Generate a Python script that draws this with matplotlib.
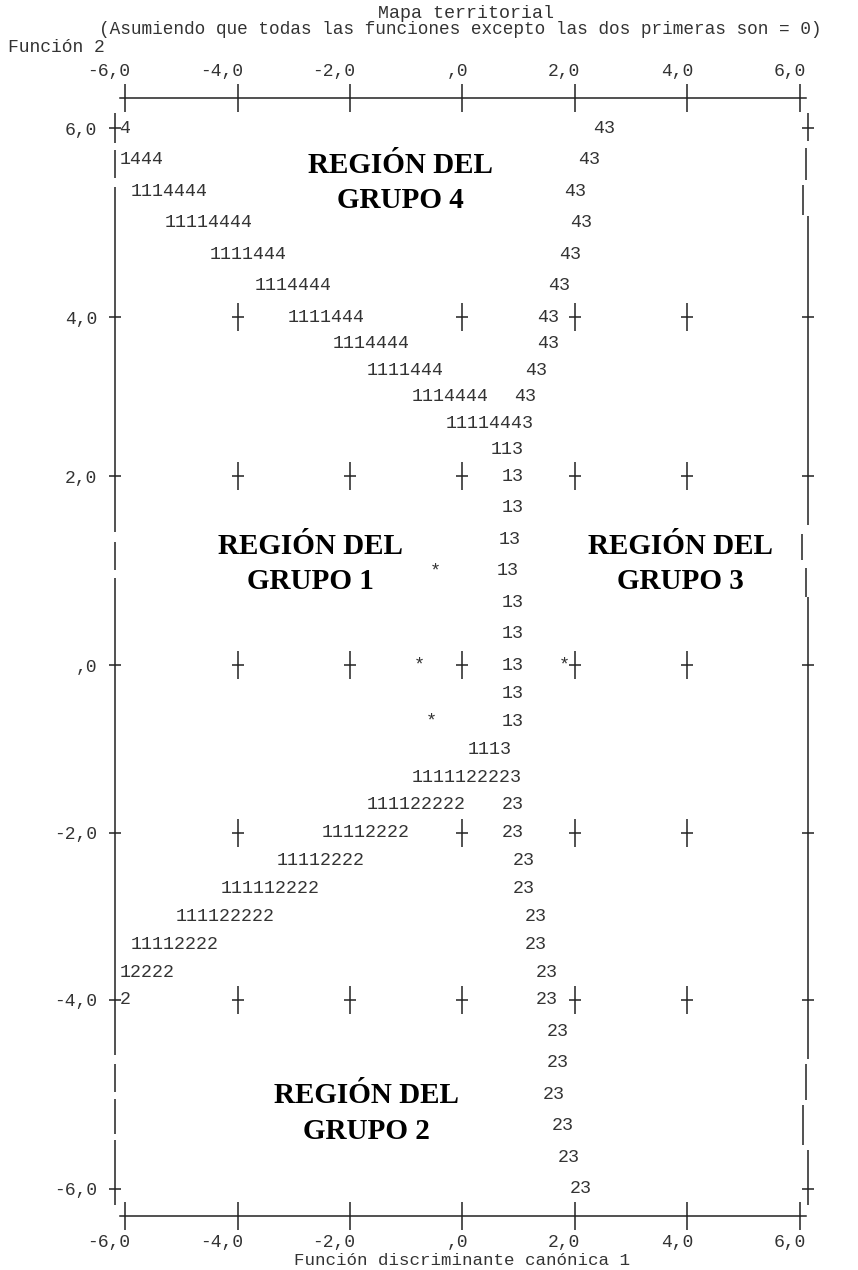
import numpy as np
import matplotlib
matplotlib.use('Agg')
import matplotlib.pyplot as plt
from matplotlib.transforms import ScaledTranslation

# SPSS territorial map, one list per printed row (row 0 = Función 2 at 6,0,
# three rows per unit). Each entry is (column, text), column 0 = -6,0 and
# every column is 0,2 units of Función 1.
map_rows = [
    [(0, '4'), (42.1, '43')],
    [(0, '1444'), (40.8, '43')],
    [(1, '1114444'), (39.5, '43')],
    [(4, '11114444'), (40.1, '43')],
    [(8, '1111444'), (39.1, '43')],
    [(12, '1114444'), (38.1, '43')],
    [(15, '1111444'), (37.1, '43')],
    [(19, '1114444'), (37.1, '43')],
    [(22, '1111444'), (36.1, '43')],
    [(26, '1114444'), (35.1, '43')],
    [(29, '11114443')],
    [(33, '113')],
    [(34, '13')],
    [(34, '13')],
    [(33.7, '13')],
    [(27.6, '*'), (33.5, '13')],
    [(34, '13')],
    [(34, '13')],
    [(26.2, '*'), (34, '13'), (39.1, '*')],
    [(34, '13')],
    [(27.2, '*'), (34, '13')],
    [(31, '1113')],
    [(26, '1111122223')],
    [(22, '111122222'), (34, '23')],
    [(18, '11112222'), (34, '23')],
    [(14, '11112222'), (35, '23')],
    [(9, '111112222'), (35, '23')],
    [(5, '111122222'), (36, '23')],
    [(1, '11112222'), (36, '23')],
    [(0, '12222'), (37, '23')],
    [(0, '2'), (37, '23')],
    [(38, '23')],
    [(38, '23')],
    [(37.6, '23')],
    [(38.4, '23')],
    [(39, '23')],
    [(40, '23')],
]
row_step = 1 / 3.0
col_step = 0.2

tick_values = [-6, -4, -2, 0, 2, 4, 6]
tick_labels = ['-6,0', '-4,0', '-2,0', ',0', '2,0', '4,0', '6,0']
cross_values = [-4, -2, 0, 2, 4]

region_text = ['REGIÓN DEL\nGRUPO 1', 'REGIÓN DEL\nGRUPO 2',
               'REGIÓN DEL\nGRUPO 3', 'REGIÓN DEL\nGRUPO 4']
region_x = [-2.71, -1.70, 3.88, -1.11]
region_y = [1.07, -5.20, 1.07, 5.42]

# the printout is stretched unevenly where the region labels were pasted in
band_values = [-7, -6, -4, -2, 0, 2, 4, 6, 7]
band_pos = [0, 94.5, 283.5, 450.5, 618.5, 807.5, 966.5, 1155.5, 1250]

def fwd(v):
    return np.interp(v, band_values, band_pos)

def inv(p):
    return np.interp(p, band_pos, band_values)

# broken frame lines (y from, y to) and right side x
left_border = [(6.16, 5.84), (5.77, 5.47), (5.38, 1.41), (1.30, 1.01),
               (0.92, -4.58), (-4.68, -4.97), (-5.05, -5.42), (-5.48, -6.17)]
right_border = [(6.15, 6.16, 5.86), (6.10, 5.79, 5.45), (6.05, 5.40, 5.08),
                (6.15, 5.07, 1.48), (6.03, 1.39, 1.11), (6.11, 1.03, 0.72),
                (6.15, 0.72, -4.63), (6.10, -4.68, -5.06), (6.05, -5.11, -5.53),
                (6.15, -5.59, -6.17)]

plt.rcParams['font.family'] = ['Liberation Mono', 'DejaVu Sans Mono']
ink = '#333333'
line_c = '#222222'
mono = 13.2

fig = plt.figure(figsize=(8.58, 12.70), dpi=100)
ax = fig.add_axes([0.1339, 0.0512, 0.8083, 0.8598])
ax.set_yscale('function', functions=(fwd, inv))
ax.set_xlim(-6.18, 6.15)
ax.set_ylim(-6.17, 6.16)

# map characters
for k, row in enumerate(map_rows):
    y = 6 - k * row_step
    for col, s in row:
        ax.text(-6 + col * col_step - col_step / 2, y, s, ha='left', va='center',
                fontsize=mono, color=ink)


# interior crosses, except where a character of the map is printed over them
def covered(cx, cy):
    k = int(round((6 - cy) / row_step))
    c = (cx + 6) / col_step
    return any(col - 0.5 <= c <= col + len(s) - 0.5 for col, s in map_rows[k])


cx_list, cy_list = [], []
for cy in cross_values:
    for cx in cross_values:
        if not covered(cx, cy):
            cx_list.append(cx)
            cy_list.append(cy)
ax.plot(cx_list, cy_list, ls='none', marker='|', ms=20, mew=1.1, color=line_c)
ax.plot(cx_list, cy_list, ls='none', marker='_', ms=8.5, mew=1.1, color=line_c)

# frame
for y0, y1 in left_border:
    ax.vlines(-6.18, y1, y0, color=line_c, lw=1.1, clip_on=False)
for xr, y0, y1 in right_border:
    ax.vlines(xr, y1, y0, color=line_c, lw=1.1, clip_on=False)

# region names
for s, x, y in zip(region_text, region_x, region_y):
    ax.text(x, y, s, ha='center', va='center', multialignment='center',
            fontfamily='Liberation Serif', fontweight='bold', fontsize=21,
            linespacing=1.42, color='black')

# axes
for side in ['left', 'right']:
    ax.spines[side].set_visible(False)
ax.spines['top'].set_position(('outward', 10.8))
ax.spines['bottom'].set_position(('outward', 7.9))
for side in ['top', 'bottom']:
    ax.spines[side].set_bounds(-6.09, 6.1)
    ax.spines[side].set_color(line_c)
    ax.spines[side].set_linewidth(1.1)

ax.set_xticks(tick_values, tick_labels)
ax.set_yticks(tick_values, tick_labels)
ax.tick_params(axis='x', top=True, bottom=True, labeltop=True, labelbottom=True,
               direction='inout', length=19.5, width=1.1, color=line_c,
               pad=3, labelsize=13, labelcolor=ink)
ax.tick_params(axis='y', left=True, right=True, labelleft=True, labelright=False,
               direction='inout', length=8.6, width=1.1, color=line_c,
               pad=8.4, labelsize=13, labelcolor=ink)
ax.minorticks_off()

off = ScaledTranslation(5.5 / 100, 0, fig.dpi_scale_trans)
for t in ax.xaxis.get_major_ticks():
    for lbl in (t.label1, t.label2):
        lbl.set_horizontalalignment('right')
        lbl.set_transform(lbl.get_transform() + off)

ax.set_xlabel('Función discriminante canónica 1', fontsize=12.6, color=ink, labelpad=2)

fig.text(466 / 858, 1 - 13 / 1270, 'Mapa territorial', ha='center', va='center',
         fontsize=13.2, color=ink)
fig.text(460 / 858, 1 - 30 / 1270,
         '(Asumiendo que todas las funciones excepto las dos primeras son = 0)',
         ha='center', va='center', fontsize=12.8, color=ink)
fig.text(8 / 858, 1 - 47 / 1270, 'Función 2', ha='left', va='center',
         fontsize=13, color=ink)

fig.savefig('out.png', dpi=100)
